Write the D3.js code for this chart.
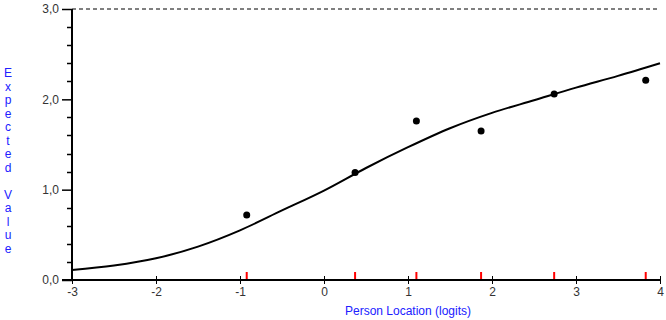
<!DOCTYPE html>
<html>
<head>
<meta charset="utf-8">
<script src="https://cdn.jsdelivr.net/npm/d3@7"></script>
<style>
  body { margin: 0; background: #fff; }
  text { font-family: "Liberation Sans", Arial, sans-serif; }
</style>
</head>
<body>
<script>
// Expected value curve
let curveX = [-3, -2.5, -2, -1.5, -1, -0.5, 0, 0.5, 1, 1.5, 2, 2.5, 3, 3.5, 4];
let curveY = [0.11, 0.16, 0.24, 0.37, 0.55, 0.77, 0.99, 1.24, 1.47, 1.68, 1.85, 1.99, 2.13, 2.26, 2.40];

// observed class means
let obsX = [-0.92, 0.37, 1.10, 1.87, 2.74, 3.83];
let obsY = [0.72, 1.19, 1.76, 1.65, 2.06, 2.21];

let xTicks = [-3, -2, -1, 0, 1, 2, 3, 4];
let xLabels = ["-3", "-2", "-1", "0", "1", "2", "3", "4"];
let yTicks = [0, 1, 2, 3];
let yLabels = ["0,0", "1,0", "2,0", "3,0"];
let maxScore = 3;

let width = 666, height = 320;

let svg = d3.select("body").append("svg")
  .attr("width", width)
  .attr("height", height);

let x = d3.scaleLinear().domain([-3, 4]).range([72, 660]);
let y = d3.scaleLinear().domain([0, 3]).range([280, 9]);

// dashed max line
svg.append("line")
  .attr("x1", x(-3)).attr("x2", x(4))
  .attr("y1", y(maxScore)).attr("y2", y(maxScore))
  .attr("stroke", "#000")
  .attr("stroke-width", 1)
  .attr("stroke-dasharray", "4,3");

// y axis
let yAxis = d3.axisLeft(y)
  .tickValues(yTicks)
  .tickFormat(function(d, i){ return yLabels[i]; })
  .tickSize(10)
  .tickPadding(3);

let gy = svg.append("g")
  .attr("transform", "translate(" + x(-3) + ",0)")
  .call(yAxis);
gy.select(".domain").remove();
gy.selectAll("line").attr("stroke", "#000").attr("stroke-width", 1.5);
gy.selectAll("text").attr("fill", "#333").style("font-size", "12px");

// minor ticks on y
let minor = d3.range(0, 3.01, 0.2).filter(function(d){ return Math.abs(d - Math.round(d)) > 0.01; });
svg.selectAll(".minor")
  .data(minor)
  .enter().append("line")
  .attr("class", "minor")
  .attr("x1", x(-3) - 5).attr("x2", x(-3))
  .attr("y1", function(d){ return Math.round(y(d)) + 0.5; })
  .attr("y2", function(d){ return Math.round(y(d)) + 0.5; })
  .attr("stroke", "#000")
  .attr("stroke-width", 1.5);

// x axis
let xAxis = d3.axisBottom(x)
  .tickValues(xTicks)
  .tickFormat(function(d, i){ return xLabels[i]; })
  .tickSize(4)
  .tickPadding(3);

let gx = svg.append("g")
  .attr("transform", "translate(0," + y(0) + ")")
  .call(xAxis);
gx.select(".domain").remove();
gx.selectAll("line").attr("stroke", "#000").attr("stroke-width", 1).attr("y1", -4);
gx.selectAll("text").attr("fill", "#333").style("font-size", "12px");

// red markers for class intervals
svg.selectAll(".red")
  .data(obsX)
  .enter().append("line")
  .attr("class", "red")
  .attr("x1", function(d){ return x(d); })
  .attr("x2", function(d){ return x(d); })
  .attr("y1", y(0) - 8).attr("y2", y(0))
  .attr("stroke", "#ff0000")
  .attr("stroke-width", 2);

// axis lines
svg.append("line")
  .attr("x1", x(-3)).attr("x2", x(-3))
  .attr("y1", y(3)).attr("y2", y(0))
  .attr("stroke", "#000").attr("stroke-width", 2);
svg.append("line")
  .attr("x1", x(-3) - 10).attr("x2", x(4))
  .attr("y1", y(0)).attr("y2", y(0))
  .attr("stroke", "#000").attr("stroke-width", 2);

// curve
let line = d3.line()
  .x(function(d, i){ return x(curveX[i]); })
  .y(function(d){ return y(d); })
  .curve(d3.curveMonotoneX);

svg.append("path")
  .attr("d", line(curveY))
  .attr("fill", "none")
  .attr("stroke", "#000")
  .attr("stroke-width", 2);

// observed points
svg.selectAll(".pt")
  .data(obsY)
  .enter().append("circle")
  .attr("class", "pt")
  .attr("cx", function(d, i){ return x(obsX[i]); })
  .attr("cy", function(d){ return y(d); })
  .attr("r", 3.5)
  .attr("fill", "#000");

// axis titles
svg.append("text")
  .attr("x", 408)
  .attr("y", 315)
  .attr("text-anchor", "middle")
  .attr("fill", "#2020ff")
  .style("font-size", "12px")
  .text("Person Location (logits)");

let yTitle = "Expected Value".split("");
svg.selectAll(".ych")
  .data(yTitle)
  .enter().append("text")
  .attr("class", "ych")
  .attr("x", 8)
  .attr("y", function(d, i){ return 77 + i * 13.5; })
  .attr("text-anchor", "middle")
  .attr("fill", "#2020ff")
  .style("font-size", "12px")
  .text(function(d){ return d; });
</script>
</body>
</html>
